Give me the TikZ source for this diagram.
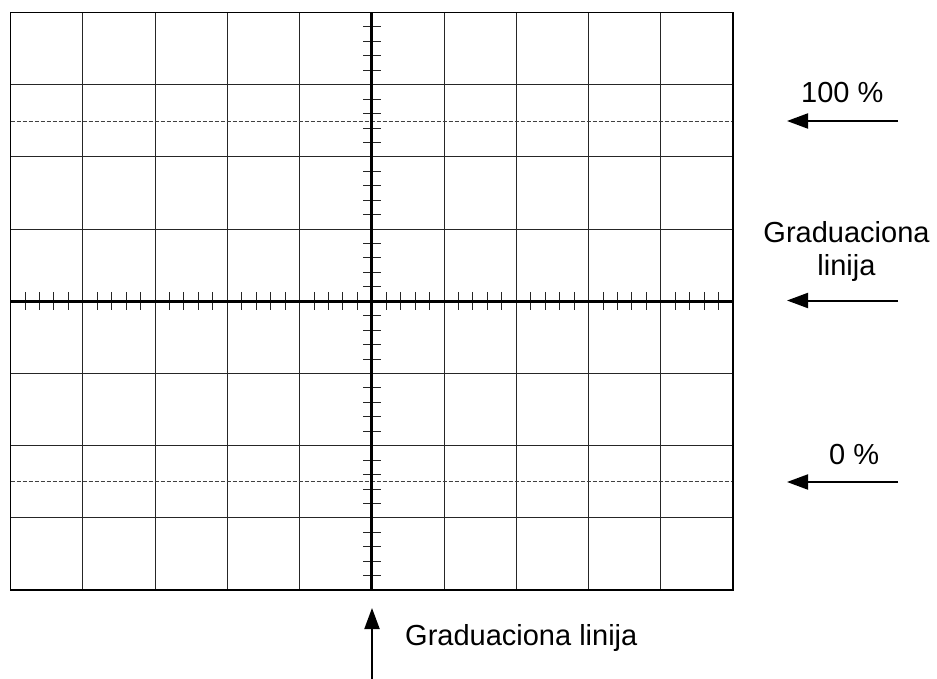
\documentclass[tikz,border=0pt]{standalone}
\usepackage{fontspec}
\setmainfont{Liberation Sans}
\usetikzlibrary{arrows.meta}
\begin{document}
\begin{tikzpicture}[x=1pt,y=-1pt,
  gridline/.style={line width=0.9pt,black!85},
  border/.style={line width=1.3pt,black},
  axisline/.style={line width=2.8pt,black},
  tickline/.style={line width=0.9pt,black!85},
  dashline/.style={line width=0.8pt,black!75,dash pattern=on 4pt off 2pt},
  pointer/.style={line width=2pt,-{Triangle[length=21pt,width=15pt]}},
  lbl/.style={font=\fontsize{29}{33}\selectfont,inner sep=0pt,align=center}]
\useasboundingbox (0,0) rectangle (937,679);
% grid
\foreach \i in {1,...,9} \draw[gridline] ({10.5+\i*72.25},12.5) -- ({10.5+\i*72.25},590);
\foreach \j in {1,...,7} \draw[gridline] (10.5,{12.5+\j*72.19}) -- (733,{12.5+\j*72.19});
% dashed lines
\draw[dashline] (10.5,121) -- (733,121);
\draw[dashline] (10.5,481) -- (733,481);
% ticks
\foreach \k in {1,...,49} \draw[tickline] ({10.5+\k*14.45},292) -- ({10.5+\k*14.45},310);
\foreach \k in {1,...,39} \draw[tickline] (363,{12.5+\k*14.438}) -- (381,{12.5+\k*14.438});
% axes
\draw[axisline] (10.5,301.3) -- (733,301.3);
\draw[axisline] (371.75,12.5) -- (371.75,590);
\draw[border] (10.5,12.5) rectangle (733,590);
% labels
\node[lbl,anchor=base west] (t100) at (801,103) {100 \%};
\node[lbl] (tgrad) at (846.5,252) {Graduaciona\\linija};
\node[lbl,anchor=base west] (t0) at (829,464) {0 \%};
\node[lbl,anchor=base west] (tbot) at (405,645) {Graduaciona linija};
\coordinate (a1s) at (898,121); \coordinate (a1e) at (787,121);
\coordinate (a2s) at (898,300.5); \coordinate (a2e) at (787,300.5);
\coordinate (a3s) at (898,482); \coordinate (a3e) at (787,482);
\coordinate (a4s) at (372,679); \coordinate (a4e) at (372,608);
\draw[pointer] (a1s) -- (a1e);
\draw[pointer] (a2s) -- (a2e);
\draw[pointer] (a3s) -- (a3e);
\draw[pointer] (a4s) -- (a4e);
\end{tikzpicture}
\end{document}
